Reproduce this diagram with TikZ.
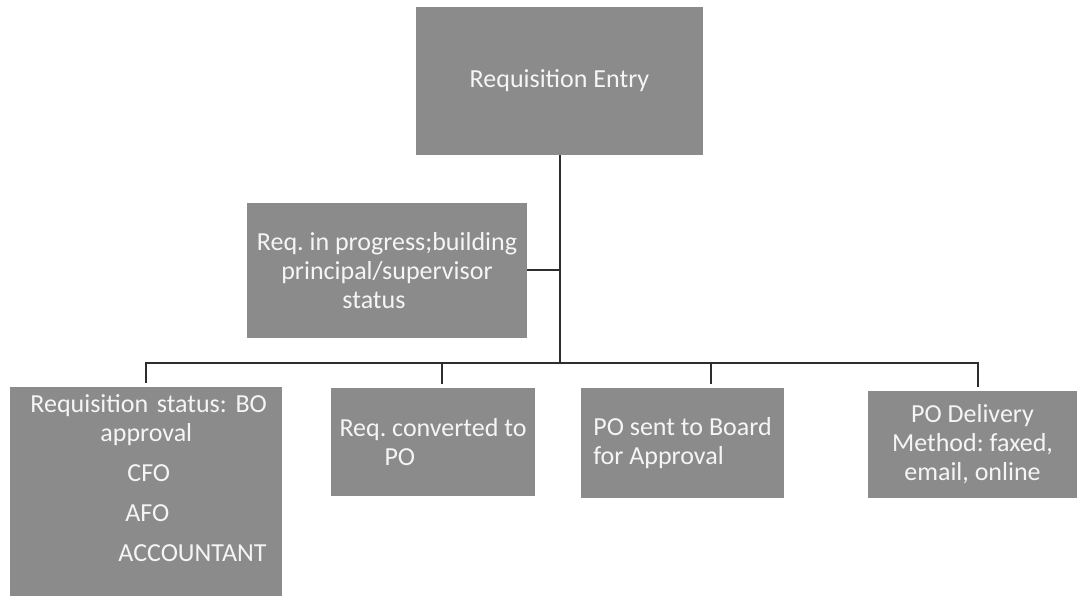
\documentclass[tikz,border=0pt]{standalone}
\usepackage{fontspec}
\setmainfont{Carlito}
\frenchspacing
\definecolor{boxgray}{RGB}{139,139,139}
\definecolor{linegray}{RGB}{45,45,45}

\begin{document}
\begin{tikzpicture}[x=1pt, y=-1pt, thick,
		orgbox/.style={fill=boxgray, text=white!96!black, inner sep=0pt, font=\fontsize{26}{29}\selectfont},
		link/.style={draw=linegray, line width=2pt}]
		\useasboundingbox (0,0) rectangle (1077,596);

		\node[orgbox, minimum width=287pt, minimum height=148pt] (1) at (559.5,81) {Requisition Entry};
		\node[orgbox, minimum width=280pt, minimum height=135pt, align=center] (2) at (387,270.5) {Req. in progress;building\\principal/supervisor\\status\hspace*{26pt}};
		\node[orgbox, anchor=north west, text width=272pt, text height=25pt, text depth=184pt, align=left] (3) at (10,387)
			{\hspace*{20pt}Requisition status: BO\\
			\hspace*{90pt}approval\\[11pt]
			\hspace*{117pt}CFO\\[11pt]
			\hspace*{115pt}AFO\\[11pt]
			\hspace*{108pt}ACCOUNTANT};
		\node[orgbox, minimum width=204pt, minimum height=108pt, align=left] (4) at (433,442) {Req. converted to\\\hspace*{45pt}PO};
		\node[orgbox, minimum width=203pt, minimum height=110pt, align=left] (5) at (682.5,443) {PO sent to Board\\for Approval};
		\node[orgbox, minimum width=209pt, minimum height=107pt, align=center] (6) at (972.5,444.5) {PO Delivery\\Method: faxed,\\email, online};

		\coordinate (bus) at (559.5,363);

		\draw[link] (1) -- (bus);
		\draw[link] (2) -- (2 -| bus);
		\draw[link, shorten >=4pt] (bus) -| (3.north);
		\draw[link, shorten >=4pt] (bus) -| ([xshift=9pt]4.north);
		\draw[link, shorten >=4pt] (bus) -| ([xshift=28.5pt]5.north);
		\draw[link, shorten >=4pt] (bus) -| ([xshift=5.5pt]6.north);
	\end{tikzpicture}
\end{document}
